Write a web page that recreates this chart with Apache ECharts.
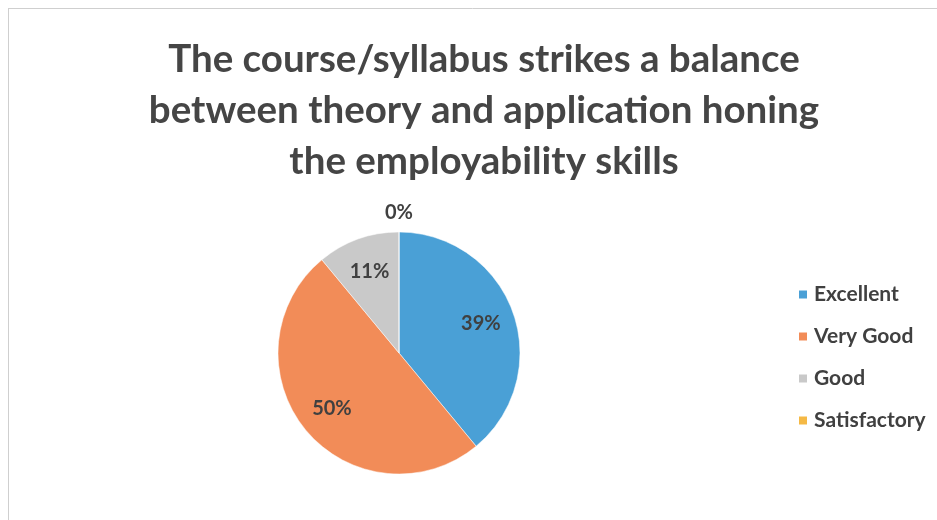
<!DOCTYPE html>
<html>
<head>
<meta charset="utf-8">
<script src="https://cdn.jsdelivr.net/npm/echarts@6/dist/echarts.min.js"></script>
<style>html,body{margin:0;padding:0;background:#fff}#c{width:937px;height:520px}</style>
</head>
<body>
<div id="c"></div>
<script>
const titleText = "The course/syllabus strikes a balance\nbetween theory and application honing\nthe employability skills";
const categories = ["Excellent", "Very Good", "Good", "Satisfactory"];
const values = [39, 50, 11, 0];
const colors = ["#4aa0d6", "#f28c58", "#c9c9c9", "#f5b945"];

const chart = echarts.init(document.getElementById('c'));
const mainData = categories.map((n, i) => ({ name: n, value: values[i], itemStyle: { color: colors[i] } }));
const labelData = categories.map((n, i) => {
  const d = { name: n, value: values[i] };
  if (values[i] === 0) {
    d.label = { position: 'outside', distanceToLabelLine: 0 };
    d.labelLine = { show: false, length: 19, length2: 0 };
  }
  return d;
});

chart.setOption({
  animation: false,
  backgroundColor: '#fff',
  title: {
    text: titleText,
    left: 479,
    textAlign: 'center',
    top: 29,
    textStyle: { fontFamily: 'Lato', fontWeight: 'bold', fontSize: 38.5, lineHeight: 51, color: '#454545' }
  },
  legend: {
    orient: 'vertical',
    left: 792,
    top: 279,
    itemWidth: 10,
    itemHeight: 10,
    itemGap: 21,
    icon: 'rect',
    data: categories,
    textStyle: { fontFamily: 'Lato', fontWeight: 'bold', fontSize: 21, lineHeight: 21, color: '#404040', padding: [0, 0, 0, 1] }
  },
  graphic: [
    { type: 'line', shape: { x1: 8, y1: 8.5, x2: 937, y2: 8.5 }, style: { stroke: '#cfcfcf', lineWidth: 1 } },
    { type: 'line', shape: { x1: 8.5, y1: 8, x2: 8.5, y2: 520 }, style: { stroke: '#cfcfcf', lineWidth: 1 } }
  ],
  series: [
    {
      type: 'pie',
      center: [399, 353],
      radius: [0, 121],
      startAngle: 90,
      clockwise: true,
      avoidLabelOverlap: false,
      data: mainData,
      label: { show: false },
      labelLine: { show: false },
      itemStyle: { borderColor: '#fff', borderWidth: 0.5 },
      emphasis: { disabled: true }
    },
    {
      type: 'pie',
      center: [399, 353],
      radius: [47, 121],
      startAngle: 90,
      clockwise: true,
      silent: true,
      avoidLabelOverlap: false,
      legendHoverLink: false,
      data: labelData,
      itemStyle: { color: 'rgba(0,0,0,0)' },
      label: {
        show: true,
        position: 'inside',
        formatter: '{c}%',
        fontFamily: 'Lato',
        fontWeight: 'bold',
        fontSize: 20,
        color: '#404040'
      },
      labelLine: { show: false },
      labelLayout: function (p) {
        return p.dataIndex === 3 ? { align: 'center' } : {};
      },
      emphasis: { disabled: true }
    }
  ]
});
</script>
</body>
</html>
